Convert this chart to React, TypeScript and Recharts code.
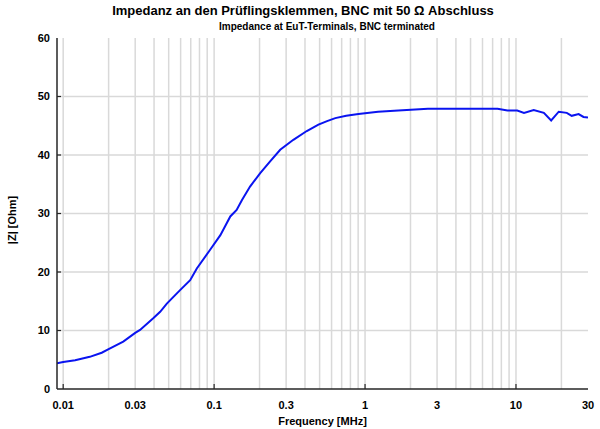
import { LineChart, Line, XAxis, YAxis, ReferenceLine } from "recharts";

// frequency in MHz, |Z| in Ohm
const freq = [
    0.0091, 0.01, 0.012, 0.015, 0.018, 0.02, 0.025, 0.03, 0.0323, 0.0395, 0.0439, 0.0486,
    0.0595, 0.0694, 0.0768, 0.0941, 0.11, 0.128, 0.141, 0.153, 0.173, 0.202, 0.235, 0.274,
    0.335, 0.411, 0.491, 0.56, 0.635, 0.75, 0.904, 1.22, 1.66, 2.61, 4.5, 7.55, 8.78, 10.2,
    11.3, 13.1, 15.3, 17.1, 19.2, 21.7, 23.4, 26.0, 28.0, 30,
];
const impedance = [
    4.4, 4.6, 4.9, 5.5, 6.2, 6.8, 8.1, 9.6, 10.1, 12.1, 13.2, 14.6,
    16.9, 18.6, 20.6, 23.8, 26.3, 29.5, 30.6, 32.3, 34.6, 36.9, 38.9, 40.9,
    42.6, 44.1, 45.2, 45.8, 46.3, 46.7, 47.0, 47.4, 47.6, 47.9, 47.9, 47.9, 47.6, 47.6,
    47.2, 47.7, 47.2, 45.9, 47.4, 47.2, 46.7, 47.0, 46.5, 46.4,
];

const xTicks = [0.01, 0.03, 0.1, 0.3, 1, 3, 10, 30];
const xDecades = [0.01, 0.1, 1, 10];
const yTicks = [0, 10, 20, 30, 40, 50, 60];
const xGrid = [
    0.01, 0.02, 0.03, 0.04, 0.05, 0.06, 0.07, 0.08, 0.09,
    0.1, 0.2, 0.3, 0.4, 0.5, 0.6, 0.7, 0.8, 0.9,
    1, 2, 3, 4, 5, 6, 7, 8, 9,
    10, 20,
];
const yGrid = [10, 20, 30, 40, 50];

const data = freq.map((f, i) => ({ f, z: impedance[i] }));

const FONT = "'Liberation Sans', Arial, sans-serif";
const AXIS = "#262626";

const BottomTick = (props: any) => {
    const { x, y, payload } = props;
    const v = payload.value;
    return (
        <g>
            {xDecades.includes(v) && (
                <line x1={x} x2={x} y1={y - 12} y2={y - 17} stroke={AXIS} strokeWidth={1.2} />
            )}
            <text x={x} y={y} dy="0.71em" textAnchor="middle" fontFamily={FONT} fontSize={11}
                fontWeight="bold" fill="#000">
                {v}
            </text>
        </g>
    );
};

const TopTick = (props: any) => {
    const { x, y } = props;
    return <line x1={x} x2={x} y1={y} y2={y + 5} stroke={AXIS} strokeWidth={1.2} />;
};

const LeftTick = (props: any) => {
    const { x, y, payload } = props;
    const v = payload.value;
    return (
        <g>
            {v > 0 && v < 60 && (
                <line x1={x + 7} x2={x + 11} y1={y} y2={y} stroke={AXIS} strokeWidth={1.2} />
            )}
            <text x={x} y={y} dy="0.36em" textAnchor="end" fontFamily={FONT} fontSize={11}
                fontWeight="bold" fill="#000">
                {v}
            </text>
        </g>
    );
};

const RightTick = (props: any) => {
    const { x, y, payload } = props;
    const v = payload.value;
    if (v <= 0 || v >= 60) return <g />;
    return <line x1={x} x2={x - 4} y1={y} y2={y} stroke={AXIS} strokeWidth={1.2} />;
};

export default function App() {
    return (
        <div style={{ position: "absolute", left: 0, top: 0, width: 600, height: 429, background: "#fff", fontFamily: FONT }}>
            <div style={{ position: "absolute", left: 0, top: 3, width: 606, textAlign: "center", fontSize: 13, fontWeight: "bold" }}>
                Impedanz an den Prüflingsklemmen, BNC mit 50 Ω Abschluss
            </div>
            <div style={{ position: "absolute", left: 0, top: 21, width: 654, textAlign: "center", fontSize: 10, fontWeight: "bold" }}>
                Impedance at EuT-Terminals, BNC terminated
            </div>
            <div style={{ position: "absolute", left: 12, top: 220, width: 0, height: 0 }}>
                <div style={{ position: "absolute", transform: "translate(-50%, -50%) rotate(-90deg)", whiteSpace: "nowrap", fontSize: 11, fontWeight: "bold" }}>
                    |Z| [Ohm]
                </div>
            </div>
            <LineChart width={600} height={429} data={data} margin={{ top: 38, right: 12, bottom: 0, left: 0 }}>
                {xGrid.map((v) => (
                    <ReferenceLine key={"x" + v} x={v} stroke="#d9d9d9" strokeWidth={1.5} />
                ))}
                {yGrid.map((v) => (
                    <ReferenceLine key={"y" + v} y={v} stroke="#d9d9d9" strokeWidth={1.5} />
                ))}
                <XAxis
                    dataKey="f"
                    type="number"
                    scale="log"
                    domain={[0.0091, 30]}
                    allowDataOverflow
                    ticks={xTicks}
                    interval={0}
                    height={40}
                    tickSize={0}
                    tickMargin={12}
                    tick={<BottomTick />}
                    axisLine={{ stroke: AXIS, strokeWidth: 1.5 }}
                    label={{ value: "Frequency [MHz]", position: "insideBottom", offset: 4, fontFamily: FONT, fontSize: 11, fontWeight: "bold", fill: "#000" }}
                />
                <XAxis
                    xAxisId="top"
                    orientation="top"
                    dataKey="f"
                    type="number"
                    scale="log"
                    domain={[0.0091, 30]}
                    allowDataOverflow
                    ticks={xDecades}
                    interval={0}
                    height={0}
                    tickSize={0}
                    tickMargin={0}
                    tick={<TopTick />}
                    axisLine={{ stroke: AXIS, strokeWidth: 1.5 }}
                />
                <YAxis
                    type="number"
                    domain={[0, 60]}
                    ticks={yTicks}
                    interval={0}
                    width={57}
                    tickSize={0}
                    tickMargin={7}
                    tick={<LeftTick />}
                    axisLine={{ stroke: AXIS, strokeWidth: 1.5 }}
                />
                <YAxis
                    yAxisId="right"
                    orientation="right"
                    type="number"
                    domain={[0, 60]}
                    ticks={yTicks}
                    interval={0}
                    width={0}
                    tickSize={0}
                    tickMargin={0}
                    tick={<RightTick />}
                    axisLine={{ stroke: AXIS, strokeWidth: 1.5 }}
                />
                <Line
                    dataKey="z"
                    type="linear"
                    stroke="#0a14f0"
                    strokeWidth={2}
                    dot={false}
                    isAnimationActive={false}
                />
            </LineChart>
        </div>
    );
}
